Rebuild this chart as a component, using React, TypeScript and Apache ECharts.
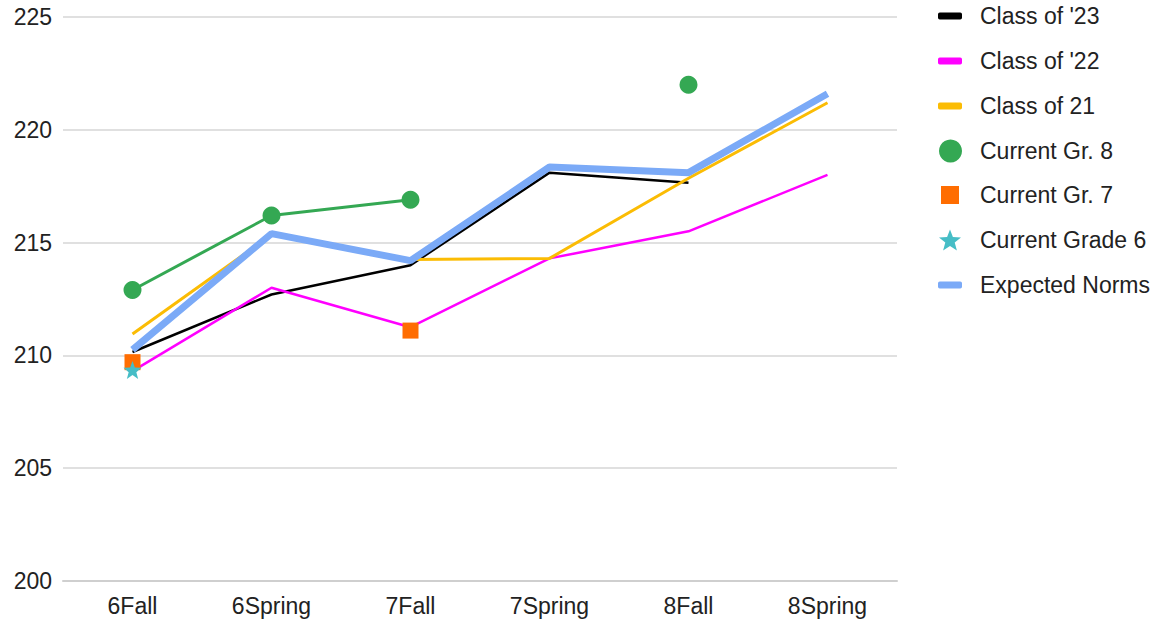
import React, { useEffect, useRef } from "react";
import * as echarts from "echarts";

const categories = ["6Fall", "6Spring", "7Fall", "7Spring", "8Fall", "8Spring"];
const yTicks = [200, 205, 210, 215, 220, 225];

const class23 = [210.15, 212.7, 214.0, 218.1, 217.65, null];
const class22 = [209.3, 213.0, 211.25, 214.3, 215.5, 218.0];
const class21 = [210.95, 215.35, 214.25, 214.3, 217.85, 221.2];
const currentGr8 = [212.9, 216.2, 216.9, null, 222.0, null];
const currentGr7 = [209.7, null, 211.1, null, null, null];
const currentGrade6 = [209.35, null, null, null, null, null];
const expectedNorms = [210.25, 215.4, 214.2, 218.35, 218.1, 221.6];

const seriesNames = [
  "Class of '23",
  "Class of '22",
  "Class of 21",
  "Current Gr. 8",
  "Current Gr. 7",
  "Current Grade 6",
  "Expected Norms",
];

const FONT = "'Liberation Sans', Arial, Helvetica, sans-serif";

export default function App() {
  const ref = useRef<HTMLDivElement>(null);

  useEffect(() => {
    if (!ref.current) return;
    const chart = echarts.init(ref.current, undefined, { renderer: "svg" });

    const legendCenters = [16, 61, 106, 151, 195, 240, 285];
    const legendIcons = [
      { icon: "roundRect", w: 24, h: 7, left: 938 },
      { icon: "roundRect", w: 24, h: 7, left: 938 },
      { icon: "roundRect", w: 24, h: 7, left: 938 },
      { icon: "circle", w: 23, h: 23, left: 939 },
      { icon: "rect", w: 18, h: 18, left: 941 },
      { icon: "path://M12,1 L14.9,8.6 L23,8.9 L16.7,14 L18.9,22 L12,17.4 L5.1,22 L7.3,14 L1,8.9 L9.1,8.6 Z", w: 22, h: 22, left: 939 },
      { icon: "roundRect", w: 24, h: 7, left: 938 },
    ];
    const LH = 26;
    const legends = seriesNames.map((name, i) => {
      const ic = legendIcons[i];
      return {
        data: [{ name, icon: ic.icon }],
        orient: "vertical",
        left: ic.left,
        top: legendCenters[i] - LH / 2,
        itemWidth: ic.w,
        itemHeight: ic.h,
        selectedMode: false,
        padding: 0,
        textStyle: {
          fontFamily: FONT,
          fontSize: 23,
          color: "#222",
          lineHeight: LH,
          padding: [0, 0, 0, 980 - (ic.left + ic.w + 5)],
        },
      };
    });

    const lineSeries = (name: string, data: (number | null)[], color: string, width: number, z: number) => ({
      name,
      type: "line",
      data,
      showSymbol: false,
      symbol: "none",
      z,
      lineStyle: { color, width },
      itemStyle: { color },
      connectNulls: false,
    });

    chart.setOption({
      animation: false,
      backgroundColor: "#ffffff",
      legend: legends,
      grid: { left: 63, right: 270, top: 17, bottom: 42, containLabel: false },
      xAxis: {
        type: "category",
        data: categories,
        boundaryGap: true,
        axisLine: { show: true, lineStyle: { color: "#cfcfcf", width: 2 } },
        axisTick: { show: false },
        axisLabel: { fontFamily: FONT, fontSize: 23, color: "#222", margin: 13 },
        splitLine: { show: false },
      },
      yAxis: {
        type: "value",
        min: yTicks[0],
        max: yTicks[yTicks.length - 1],
        interval: 5,
        axisLine: { show: false },
        axisTick: { show: false },
        axisLabel: { fontFamily: FONT, fontSize: 23, color: "#222", margin: 11 },
        splitLine: { show: true, lineStyle: { color: "#d6d6d6", width: 1.5 } },
      },
      series: [
        lineSeries(seriesNames[0], class23, "#000000", 2.5, 2),
        lineSeries(seriesNames[1], class22, "#ff00ff", 2.5, 2),
        lineSeries(seriesNames[2], class21, "#fbbc04", 3, 2),
        {
          name: seriesNames[3],
          type: "line",
          data: currentGr8,
          symbol: "circle",
          symbolSize: 18,
          showSymbol: true,
          connectNulls: false,
          z: 4,
          lineStyle: { color: "#34a853", width: 3 },
          itemStyle: { color: "#34a853" },
        },
        {
          name: seriesNames[4],
          type: "line",
          data: currentGr7,
          symbol: "rect",
          symbolSize: 16,
          showSymbol: true,
          connectNulls: false,
          z: 5,
          lineStyle: { width: 0, color: "#ff6d01" },
          itemStyle: { color: "#ff6d01" },
        },
        {
          name: seriesNames[5],
          type: "line",
          data: currentGrade6,
          symbol: "path://M12,1 L14.9,8.6 L23,8.9 L16.7,14 L18.9,22 L12,17.4 L5.1,22 L7.3,14 L1,8.9 L9.1,8.6 Z",
          symbolSize: 18,
          showSymbol: true,
          connectNulls: false,
          z: 6,
          lineStyle: { width: 0, color: "#46bdc6" },
          itemStyle: { color: "#46bdc6" },
        },
        lineSeries(seriesNames[6], expectedNorms, "#7baaf7", 7, 3),
      ],
    });

    return () => chart.dispose();
  }, []);

  return <div ref={ref} style={{ width: 1167, height: 623, position: "absolute", left: 0, top: 0 }} />;
}
